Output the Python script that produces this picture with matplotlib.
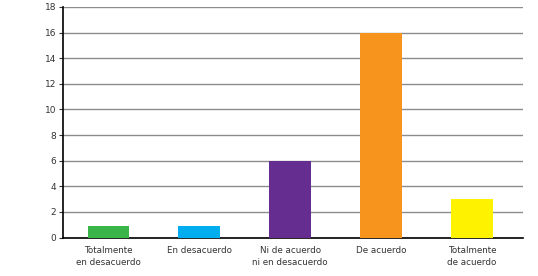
import numpy as np
import matplotlib.pyplot as plt

categories = ['Totalmente\nen desacuerdo', 'En desacuerdo', 'Ni de acuerdo\nni en desacuerdo',
              'De acuerdo', 'Totalmente\nde acuerdo']
values = [0.9, 0.9, 6, 16, 3]
colors = ['#39b54a', '#00aeef', '#662d91', '#f7941d', '#fff200']
yticks = [0, 2, 4, 6, 8, 10, 12, 14, 16, 18]

fig = plt.figure(figsize=(5.38, 2.76), dpi=100)
ax = fig.add_axes([63 / 538, 1 - 237.5 / 276, 460 / 538, 230.5 / 276])

x = np.arange(len(categories))
ax.bar(x, values, width=0.46, color=colors, zorder=3)

ax.set_xlim(-0.5, 4.56)
ax.set_ylim(0, 18)
ax.set_yticks(yticks)
ax.yaxis.grid(True, color='#8c8c8c', linewidth=1, zorder=0)
ax.set_xticks(x)
ax.set_xticklabels(categories, fontsize=6.3, color='#333333', linespacing=1.5)
ax.tick_params(axis='x', length=0, pad=6)
ax.tick_params(axis='y', length=3, width=0.8, labelsize=6.5, pad=2, colors='#333333')

for s in ['top', 'right']:
    ax.spines[s].set_visible(False)
ax.spines['left'].set_linewidth(1.2)
ax.spines['bottom'].set_linewidth(1.2)

plt.savefig('out.png', dpi=100)
